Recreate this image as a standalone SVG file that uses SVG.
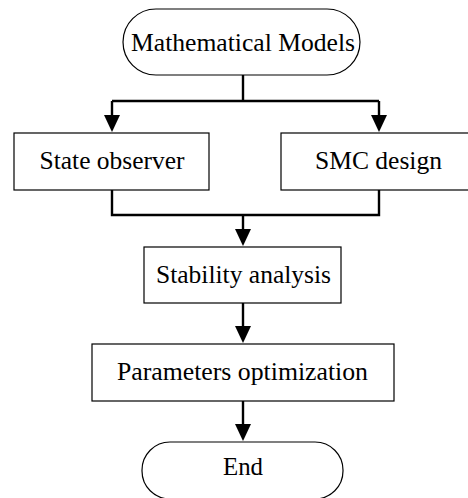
<svg xmlns="http://www.w3.org/2000/svg" width="468" height="498" viewBox="0 0 468 498">
<style>
.box{fill:#fff;stroke:#000;stroke-width:1.2}
.lbl{font-family:"Liberation Serif","DejaVu Serif",serif;font-size:25px;fill:#000;text-anchor:middle}
.con{fill:none;stroke:#000;stroke-width:2.4}
.arr{marker-end:url(#ah)}
</style>
<defs>
<marker id="ah" markerUnits="userSpaceOnUse" markerWidth="17" markerHeight="16" viewBox="0 0 17 16" refX="9" refY="8" orient="auto">
<path d="M0,0 L17,8 L0,16 Z" fill="#000"/>
</marker>
</defs>
<rect width="468" height="498" fill="#fff"/>
<g id="connectors">
<path class="con" d="M243,75 V101"/>
<path class="con" d="M112,101 H379"/>
<path class="con arr" d="M112,101 V124"/>
<path class="con arr" d="M379,101 V124"/>
<path class="con" d="M112,190 V215 H379 V190"/>
<path class="con arr" d="M243,215 V238"/>
<path class="con arr" d="M243,303 V335"/>
<path class="con arr" d="M243,401 V433"/>
</g>
<g id="mathematical-models">
<rect class="box" x="123" y="9" width="237" height="66" rx="33" ry="33"/>
<text class="lbl" x="243" y="51" textLength="224" lengthAdjust="spacingAndGlyphs">Mathematical Models</text>
</g>
<g id="state-observer">
<rect class="box" x="14" y="133" width="195" height="57"/>
<text class="lbl" x="112" y="169" textLength="145" lengthAdjust="spacingAndGlyphs">State observer</text>
</g>
<g id="smc-design">
<rect class="box" x="281" y="133" width="195" height="57"/>
<text class="lbl" x="378.5" y="169" textLength="127" lengthAdjust="spacingAndGlyphs">SMC design</text>
</g>
<g id="stability-analysis">
<rect class="box" x="144" y="247" width="197" height="56"/>
<text class="lbl" x="243.5" y="283" textLength="175" lengthAdjust="spacingAndGlyphs">Stability analysis</text>
</g>
<g id="parameters-optimization">
<rect class="box" x="92" y="344" width="302" height="57"/>
<text class="lbl" x="242.5" y="380" textLength="251" lengthAdjust="spacingAndGlyphs">Parameters optimization</text>
</g>
<g id="end">
<rect class="box" x="142" y="442" width="201" height="57" rx="28" ry="28"/>
<text class="lbl" x="243" y="475" textLength="40" lengthAdjust="spacingAndGlyphs">End</text>
</g>
</svg>
